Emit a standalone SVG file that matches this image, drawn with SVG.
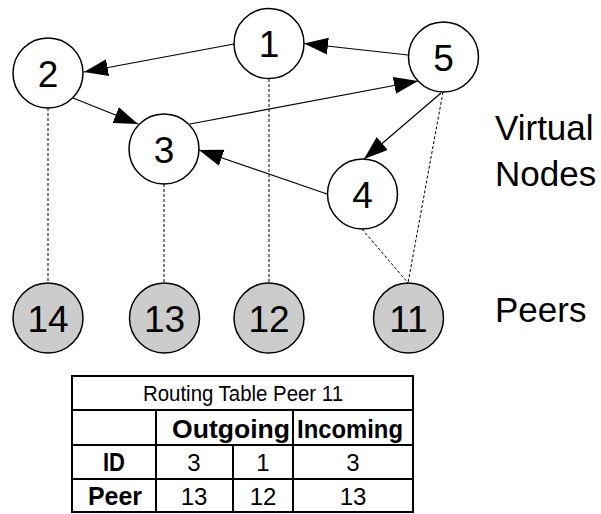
<svg xmlns="http://www.w3.org/2000/svg" width="601" height="514" viewBox="0 0 601 514">
  <style>
    .vnode { fill: #ffffff; stroke: #000000; stroke-width: 1.5; }
    .peer { fill: #cccccc; stroke: #000000; stroke-width: 1.5; }
    .num { font-family: "Liberation Sans", Arial, sans-serif; font-size: 37px; fill: #000000; text-anchor: middle; }
    .side { font-family: "Liberation Sans", Arial, sans-serif; font-size: 35px; fill: #000000; }
    .edge { stroke: #000000; stroke-width: 1.2; fill: none; marker-end: url(#head); }
    .link { stroke: #000000; stroke-width: 1; stroke-dasharray: 3 2; fill: none; }
    .grid { stroke: #000000; stroke-width: 2; fill: none; }
    .cell { font-family: "Liberation Sans", Arial, sans-serif; font-size: 24px; fill: #000000; text-anchor: middle; }
    .title { font-size: 22px; }
    .bold { font-weight: bold; font-size: 25px; }
  </style>
  <defs>
    <marker id="head" markerUnits="userSpaceOnUse" markerWidth="26" markerHeight="20" refX="24" refY="8.5" orient="auto">
      <path d="M0,0 L24,8.5 L0,17 Z" fill="#000000"/>
    </marker>
  </defs>
  <rect width="601" height="514" fill="#ffffff"/>

  <!-- connectors: virtual-node edges and peer mappings -->
  <g id="connectors">
    <line class="link" x1="48" y1="108" x2="48" y2="283"/>
    <line class="link" x1="164" y1="184" x2="164" y2="283"/>
    <line class="link" x1="269" y1="79" x2="269" y2="283"/>
    <line class="link" x1="362" y1="229" x2="408" y2="283"/>
    <line class="link" x1="443" y1="92" x2="408" y2="283"/>
    <line class="edge" x1="408" y1="55" x2="304" y2="43.5"/>
    <line class="edge" x1="234" y1="44" x2="84" y2="72"/>
    <line class="edge" x1="73" y1="98" x2="138" y2="124"/>
    <line class="edge" x1="190" y1="124" x2="418" y2="81"/>
    <line class="edge" x1="327" y1="194" x2="199" y2="150"/>
    <line class="edge" x1="441" y1="93" x2="364" y2="159"/>
  </g>

  <!-- virtual nodes -->
  <g id="node-1"><circle class="vnode" cx="269" cy="43.5" r="35"/><text class="num" x="269" y="57">1</text></g>
  <g id="node-2"><circle class="vnode" cx="48" cy="73" r="35"/><text class="num" x="48" y="87">2</text></g>
  <g id="node-3"><circle class="vnode" cx="164" cy="149" r="35"/><text class="num" x="164" y="163">3</text></g>
  <g id="node-4"><circle class="vnode" cx="362.5" cy="194" r="35"/><text class="num" x="362.5" y="208">4</text></g>
  <g id="node-5"><circle class="vnode" cx="443.5" cy="57" r="35"/><text class="num" x="443.5" y="71">5</text></g>

  <!-- peers -->
  <g id="peer-14"><circle class="peer" cx="48" cy="318" r="35"/><text class="num" x="48" y="332">14</text></g>
  <g id="peer-13"><circle class="peer" cx="164.5" cy="318" r="35"/><text class="num" x="164.5" y="332">13</text></g>
  <g id="peer-12"><circle class="peer" cx="269" cy="318" r="35"/><text class="num" x="269" y="332">12</text></g>
  <g id="peer-11"><circle class="peer" cx="408.5" cy="318" r="35"/><text class="num" x="408.5" y="332">11</text></g>

  <!-- layer labels -->
  <g id="labels">
    <text class="side" x="495" y="140">Virtual</text>
    <text class="side" x="495" y="186">Nodes</text>
    <text class="side" x="495" y="322">Peers</text>
  </g>

  <!-- routing table of peer 11 -->
  <g id="routing-table">
    <rect class="grid" x="72" y="376" width="341" height="136" fill="#ffffff"/>
    <line class="grid" x1="72" y1="410" x2="413" y2="410"/>
    <line class="grid" x1="72" y1="445" x2="413" y2="445"/>
    <line class="grid" x1="72" y1="479" x2="413" y2="479"/>
    <line class="grid" x1="156" y1="410" x2="156" y2="512"/>
    <line class="grid" x1="293" y1="410" x2="293" y2="512"/>
    <line class="grid" x1="233" y1="445" x2="233" y2="512"/>
    <text class="cell title" x="243" y="401" textLength="200" lengthAdjust="spacingAndGlyphs">Routing Table Peer 11</text>
    <text class="cell bold" x="231" y="438" textLength="118" lengthAdjust="spacingAndGlyphs">Outgoing</text>
    <text class="cell bold" x="350" y="438" textLength="106" lengthAdjust="spacingAndGlyphs">Incoming</text>
    <text class="cell bold" x="114" y="471" textLength="22" lengthAdjust="spacingAndGlyphs">ID</text>
    <text class="cell" x="194" y="471">3</text>
    <text class="cell" x="263" y="471">1</text>
    <text class="cell" x="353" y="471">3</text>
    <text class="cell bold" x="115" y="505" textLength="54" lengthAdjust="spacingAndGlyphs">Peer</text>
    <text class="cell" x="194" y="505">13</text>
    <text class="cell" x="263" y="505">12</text>
    <text class="cell" x="353" y="505">13</text>
  </g>
</svg>
